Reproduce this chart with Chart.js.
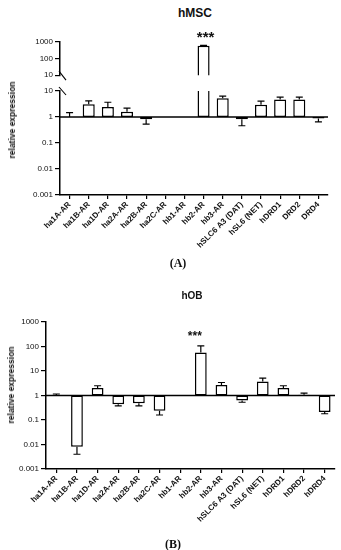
<!DOCTYPE html>
<html>
<head>
<meta charset="utf-8">
<script src="https://cdn.jsdelivr.net/npm/chart.js@4.4.0/dist/chart.umd.min.js"></script>
<style>
  html, body { margin: 0; padding: 0; background: #fff; }
  #page { position: relative; width: 341px; height: 550px; overflow: hidden; font-family: 'Liberation Sans', Arial, sans-serif; color: #111; }
  canvas, .txt { position: absolute; }
  .txt { white-space: nowrap; }
  .ttl { font-weight: bold; transform: translate(-50%, -50%); }
  .ylab { font-weight: bold; font-size: 8.5px; transform: translate(-50%, -50%) rotate(-90deg); }
  .panel { font-family: 'Liberation Serif', serif; font-weight: bold; font-size: 12px; transform: translate(-50%, -50%); }
</style>
</head>
<body>
<div id="page">
  <div class="txt ttl" style="left:195px;top:13px;font-size:12px">hMSC</div>
  <canvas id="aTop" width="341" height="54" style="left:0;top:28px"></canvas>
  <canvas id="aBot" width="341" height="180" style="left:0;top:82px"></canvas>
  <div class="txt ylab" style="left:12px;top:120px">relative expression</div>
  <div class="txt panel" style="left:178px;top:263px">(A)</div>

  <div class="txt ttl" style="left:192px;top:295px;font-size:10px">hOB</div>
  <canvas id="b" width="341" height="230" style="left:0;top:305px"></canvas>
  <div class="txt ylab" style="left:11px;top:385px">relative expression</div>
  <div class="txt panel" style="left:173px;top:544px">(B)</div>
</div>
<script>
// categories
const genesA = ['ha1A-AR', 'ha1B-AR', 'ha1D-AR', 'ha2A-AR', 'ha2B-AR', 'ha2C-AR', 'hb1-AR', 'hb2-AR', 'hb3-AR', 'hSLC6 A3 (DAT)', 'hSL6 (NET)', 'hDRD1', 'DRD2', 'DRD4'];
const genesB = ['ha1A-AR', 'ha1B-AR', 'ha1D-AR', 'ha2A-AR', 'ha2B-AR', 'ha2C-AR', 'hb1-AR', 'hb2-AR', 'hb3-AR', 'hSLC6 A3 (DAT)', 'hSL6 (NET)', 'hDRD1', 'hDRD2', 'hDRD4'];

// relative expression (mean) and end of the error whisker
const hmscMean = [1.0, 3.1, 2.4, 1.6, 0.82, null, null, 600, 5.3, 0.82, 2.96, 4.7, 4.7, 0.87];
const hmscErr  = [1.47, 4.2, 3.7, 2.2, 0.53, null, null, 620, 6.3, 0.46, 4.06, 5.8, 5.8, 0.65];
const hobMean  = [1.0, 0.008, 2.0, 0.44, 0.48, 0.24, null, 57, 2.7, 0.63, 3.7, 2.0, 1.07, 0.21];
const hobErr   = [1.15, 0.004, 2.5, 0.38, 0.38, 0.16, null, 107, 3.4, 0.53, 5.1, 2.5, 1.24, 0.18];

// tick values
const ticksUpperA = [10, 100, 1000];
const ticksLowerA = [0.001, 0.01, 0.1, 1, 10];
const ticksB = [0.001, 0.01, 0.1, 1, 10, 100, 1000];
const starIndex = 7;

const FONT = "'Liberation Sans', Arial, sans-serif";

// whiskers and the *** mark
const errorBars = {
    id: 'errorBars',
    afterDatasetsDraw(chart, args, opts) {
        const meta = chart.getDatasetMeta(0);
        const y = chart.scales.y;
        const area = chart.chartArea;
        const ctx = chart.ctx;
        ctx.save();
        ctx.beginPath();
        ctx.rect(area.left, area.top, area.right - area.left, area.bottom - area.top);
        ctx.clip();
        ctx.strokeStyle = '#000';
        ctx.lineWidth = 1.2;
        opts.err.forEach((e, i) => {
            const m = opts.mean[i];
            if (e == null || m == null) return;
            const x = meta.data[i].x;
            const y1 = y.getPixelForValue(m);
            const y2 = y.getPixelForValue(e);
            ctx.beginPath();
            ctx.moveTo(x, y1);
            ctx.lineTo(x, y2);
            ctx.moveTo(x - 3.5, y2);
            ctx.lineTo(x + 3.5, y2);
            ctx.stroke();
        });
        ctx.restore();

        if (opts.star != null) {
            const x = meta.data[opts.star].x;
            const yy = y.getPixelForValue(opts.err[opts.star]) - opts.starGap;
            ctx.save();
            ctx.fillStyle = '#111';
            ctx.font = 'bold ' + opts.starSize + 'px ' + FONT;
            ctx.textAlign = 'center';
            ctx.textBaseline = 'middle';
            ctx.fillText('***', x + opts.starShift, yy + opts.starSize * 0.2);
            ctx.restore();
        }
    }
};

// line at 1 and the axis break slashes
const axisMarks = {
    id: 'axisMarks',
    afterDatasetsDraw(chart, args, opts) {
        const area = chart.chartArea;
        const ctx = chart.ctx;
        ctx.save();
        ctx.strokeStyle = '#000';
        ctx.lineWidth = 1.5;
        if (opts.baseline) {
            const y1 = chart.scales.y.getPixelForValue(1);
            ctx.beginPath();
            ctx.moveTo(area.left, y1);
            ctx.lineTo(area.right, y1);
            ctx.stroke();
        }
        ctx.lineWidth = 1.1;
        if (opts.breakBottom) {
            ctx.beginPath();
            ctx.moveTo(area.left - 1, area.bottom - 4);
            ctx.lineTo(area.left + 6, area.bottom + 5);
            ctx.stroke();
        }
        if (opts.breakTop) {
            ctx.beginPath();
            ctx.moveTo(area.left - 1, area.top - 4);
            ctx.lineTo(area.left + 6, area.top + 4);
            ctx.stroke();
        }
        ctx.restore();
    }
};

function barChart(canvasId, labels, mean, err, cfg) {
    return new Chart(document.getElementById(canvasId), {
        type: 'bar',
        data: {
            labels: labels,
            datasets: [{
                data: mean.map(v => v == null ? null : [1, v]),
                backgroundColor: '#fff',
                borderColor: '#000',
                borderWidth: 1.5,
                borderSkipped: false,
                barPercentage: cfg.barPct,
                categoryPercentage: 1,
                clip: 0
            }]
        },
        plugins: [axisMarks, errorBars],
        options: {
            responsive: false,
            animation: false,
            events: [],
            layout: { padding: cfg.padding },
            plugins: {
                legend: { display: false },
                tooltip: { enabled: false },
                errorBars: { mean: mean, err: err, star: cfg.star, starGap: cfg.starGap, starSize: cfg.starSize, starShift: cfg.starShift || 0 },
                axisMarks: { baseline: cfg.baseline, breakTop: cfg.breakTop, breakBottom: cfg.breakBottom }
            },
            scales: {
                x: {
                    display: cfg.showX,
                    offset: true,
                    grid: { drawOnChartArea: false, offset: false, tickLength: 4, color: '#000', lineWidth: 1.2 },
                    border: { color: '#000', width: 1.5 },
                    ticks: { color: '#111', font: { family: FONT, size: 8, weight: 'bold' }, minRotation: 45, maxRotation: 45, padding: 1, autoSkip: false },
                    afterFit: s => { s.height = cfg.xHeight; }
                },
                y: {
                    type: 'logarithmic',
                    min: cfg.ticks[0],
                    max: cfg.ticks[cfg.ticks.length - 1],
                    afterBuildTicks: s => { s.ticks = cfg.ticks.map(v => ({ value: v })); },
                    afterFit: s => { s.width = cfg.yWidth; },
                    ticks: { color: '#111', font: { family: FONT, size: 8 }, padding: 2, callback: v => String(v) },
                    grid: { drawOnChartArea: false, tickLength: 5, color: '#000', lineWidth: 1.2 },
                    border: { color: '#000', width: 1.5 }
                }
            }
        }
    });
}

// panel A, upper segment (10 - 1000)
barChart('aTop', genesA, hmscMean, hmscErr, {
    ticks: ticksUpperA, yWidth: 60, xHeight: 0, showX: false,
    padding: { left: 0, right: 13, top: 14, bottom: 6 },
    barPct: 0.63, baseline: false, breakBottom: true,
    star: starIndex, starGap: 11, starSize: 15, starShift: 2
});

// panel A, lower segment (0.001 - 10)
barChart('aBot', genesA, hmscMean, hmscErr, {
    ticks: ticksLowerA, yWidth: 60, xHeight: 67, showX: true,
    padding: { left: 0, right: 13, top: 9, bottom: 0 },
    barPct: 0.63, baseline: true, breakTop: true, star: null
});

// panel B
barChart('b', genesB, hobMean, hobErr, {
    ticks: ticksB, yWidth: 46, xHeight: 66, showX: true,
    padding: { left: 0, right: 6, top: 17, bottom: 0 },
    barPct: 0.57, baseline: true,
    star: starIndex, starGap: 11, starSize: 12, starShift: -6
});
</script>
</body>
</html>
